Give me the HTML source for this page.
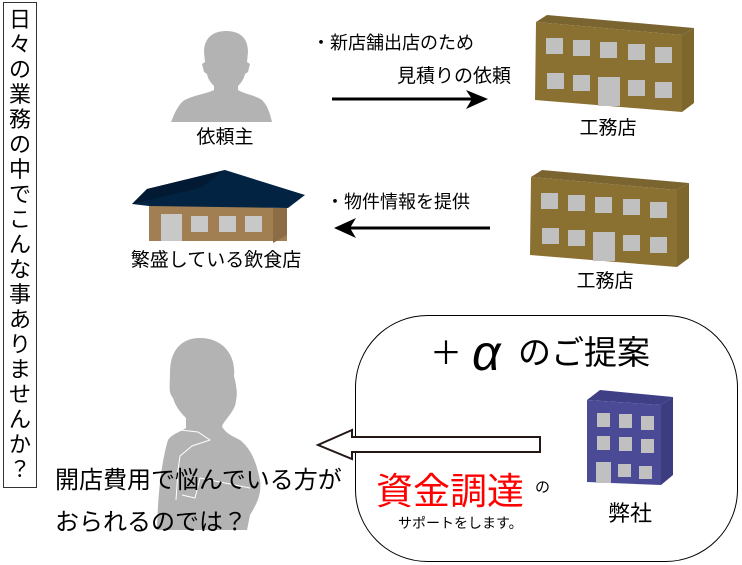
<!DOCTYPE html>
<html><head><meta charset="utf-8"><style>
html,body{margin:0;padding:0;background:#fff;}
svg{display:block;}
text{font-family:"Liberation Sans","Noto Sans CJK JP",sans-serif;fill:#000;}
</style></head><body>
<svg width="742" height="565" viewBox="0 0 742 565" xmlns="http://www.w3.org/2000/svg">
<rect x="0" y="0" width="742" height="565" fill="#fff"/>
<!-- vertical box -->
<rect x="3.5" y="2.5" width="33" height="485" fill="#fff" stroke="#333" stroke-width="1"/>
<g font-size="22" text-anchor="middle">
<text x="20" y="27">日</text><text x="20" y="52">々</text><text x="20" y="77">の</text><text x="20" y="102">業</text><text x="20" y="127">務</text><text x="20" y="152">の</text><text x="20" y="177">中</text><text x="20" y="202">で</text><text x="20" y="227">こ</text><text x="20" y="252">ん</text><text x="20" y="277">な</text><text x="20" y="302">事</text><text x="20" y="327">あ</text><text x="20" y="352">り</text><text x="20" y="377">ま</text><text x="20" y="402">せ</text><text x="20" y="427">ん</text><text x="20" y="452">か</text><text x="20" y="477">？</text>
</g>

<!-- person 1 -->
<path d="M226,31 C213,31 204,38 204,52 L205,62 L202,64 L204,72 L207,74 C208,80 212,84 214,86 L214,90 C206,94 189,96 182,102 C175,110 173,118 171,122 L272,122 C270,114 268,106 262,100 C255,95 244,94 238,90 L238,86 C241,83 244,79 245,74 L248,72 L250,64 L247,62 L248,52 C248,38 240,31 226,31 Z" fill="#b3b3b3"/>
<text x="225" y="143" font-size="19" text-anchor="middle">依頼主</text>

<!-- house -->
<polygon points="149,205 287,208 287,241 149,241" fill="#a27f53"/>
<polygon points="273,208 287,208 287,235 273,243" fill="#8c6c45"/>
<polygon points="132,204 147,189 225,170 305,195 288,208 149,206" fill="#032343"/>
<polygon points="132,204 147,189 225,170 200,188" fill="#021a33"/>
<rect x="161" y="214" width="21" height="27" fill="#c8c8c8"/>
<rect x="191" y="216" width="17" height="16" fill="#c8c8c8"/>
<rect x="219" y="216" width="17" height="16" fill="#c8c8c8"/>
<rect x="245" y="216" width="17" height="16" fill="#c8c8c8"/>
<text x="216" y="266" font-size="19" text-anchor="middle">繁盛している飲食店</text>

<!-- arrows top -->
<text x="312" y="49" font-size="18">・新店舗出店のため</text>
<text x="397" y="82" font-size="19">見積りの依頼</text>
<line x1="332" y1="99" x2="478" y2="99" stroke="#000" stroke-width="3"/>
<path d="M488,99 L466,90 L472,99 L466,109 Z" fill="#000"/>
<text x="326" y="208" font-size="18">・物件情報を提供</text>
<line x1="490" y1="228" x2="345" y2="228" stroke="#000" stroke-width="3"/>
<path d="M334,228 L356,218 L350,228 L356,238 Z" fill="#000"/>

<!-- building 1 -->
<g>
<polygon points="536,22 547,15 694,28 682,35" fill="#7a6430"/>
<polygon points="536,22 682,35 682,112 535,100" fill="#8a7132"/>
<polygon points="682,35 694,28 694,103 682,112" fill="#7d672d"/>
<rect x="546" y="38" width="17" height="16" fill="#c0c0c0"/>
<rect x="573" y="40" width="17" height="16" fill="#c0c0c0"/>
<rect x="600" y="42" width="17" height="16" fill="#c0c0c0"/>
<rect x="628" y="44" width="17" height="16" fill="#c0c0c0"/>
<rect x="655" y="47" width="17" height="16" fill="#c0c0c0"/>
<rect x="547" y="73" width="17" height="16" fill="#c0c0c0"/>
<rect x="573" y="75" width="17" height="16" fill="#c0c0c0"/>
<rect x="598" y="77" width="22" height="29" fill="#c0c0c0"/>
<rect x="628" y="80" width="17" height="16" fill="#c0c0c0"/>
<rect x="655" y="82" width="17" height="16" fill="#c0c0c0"/>
</g>
<text x="608" y="134" font-size="19" text-anchor="middle">工務店</text>
<g transform="translate(-5,155)">
<polygon points="536,22 547,15 694,28 682,35" fill="#7a6430"/>
<polygon points="536,22 682,35 682,112 535,100" fill="#8a7132"/>
<polygon points="682,35 694,28 694,103 682,112" fill="#7d672d"/>
<rect x="546" y="38" width="17" height="16" fill="#c0c0c0"/>
<rect x="573" y="40" width="17" height="16" fill="#c0c0c0"/>
<rect x="600" y="42" width="17" height="16" fill="#c0c0c0"/>
<rect x="628" y="44" width="17" height="16" fill="#c0c0c0"/>
<rect x="655" y="47" width="17" height="16" fill="#c0c0c0"/>
<rect x="547" y="73" width="17" height="16" fill="#c0c0c0"/>
<rect x="573" y="75" width="17" height="16" fill="#c0c0c0"/>
<rect x="598" y="77" width="22" height="29" fill="#c0c0c0"/>
<rect x="628" y="80" width="17" height="16" fill="#c0c0c0"/>
<rect x="655" y="82" width="17" height="16" fill="#c0c0c0"/>
</g>
<text x="605" y="287" font-size="19" text-anchor="middle">工務店</text>

<!-- person 2 -->
<path d="M200,338 C180,338 170,352 170,372 C170,386 168,392 173,398 C176,408 182,414 186,418 L186,428 C180,432 172,434 168,440 C162,460 158,490 157,530 L247,530 L250,515 C256,505 262,495 260,480 C256,460 250,448 240,440 C232,436 224,432 222,426 C226,418 236,410 236,400 C238,394 236,384 234,376 C236,354 222,338 200,338 Z" fill="#b3b3b3"/>
<path d="M180,430 L198,432 L210,440 L192,446 L180,456 L178,470 L176,500 M182,495 L195,498 L200,478 L250,488" stroke="#fff" stroke-width="1" fill="none"/>
<text x="55" y="488" font-size="24">開店費用で悩んでいる方が</text>
<text x="55" y="530" font-size="24">おられるのでは？</text>

<!-- rounded region -->
<rect x="355.5" y="315.5" width="382" height="246" rx="72" ry="72" fill="none" stroke="#000" stroke-width="1"/>
<text x="430" y="364" font-size="32">＋</text>
<text x="472" y="370" font-size="50" font-style="italic" font-family="Liberation Serif, serif">α</text>
<text x="518" y="364" font-size="33">のご提案</text>

<path d="M540,437 L352,437 L352,430 L318,445 L352,459 L352,452 L540,452 Z" fill="#fff" stroke="#231815" stroke-width="2"/>

<text x="376" y="504" font-size="37" style="fill:#f00">資金調達</text>
<text x="535" y="492" font-size="15">の</text>
<text x="398" y="528" font-size="14">サポートをします。</text>

<!-- blue building -->
<polygon points="587,400 600,390 673,397 661,405" fill="#3f3f86"/>
<polygon points="587,400 661,405 661,485 587,482" fill="#4a4a96"/>
<polygon points="661,405 673,397 673,475 661,485" fill="#3c3c80"/>
<rect x="597" y="413" width="13" height="14" fill="#c0c0c0"/>
<rect x="619" y="414" width="13" height="14" fill="#c0c0c0"/>
<rect x="641" y="416" width="13" height="14" fill="#c0c0c0"/>
<rect x="597" y="436" width="13" height="14" fill="#c0c0c0"/>
<rect x="619" y="437" width="13" height="14" fill="#c0c0c0"/>
<rect x="641" y="439" width="13" height="14" fill="#c0c0c0"/>
<rect x="596" y="462" width="15" height="21" fill="#c0c0c0"/>
<rect x="618" y="464" width="13" height="13" fill="#c0c0c0"/>
<rect x="639" y="466" width="13" height="13" fill="#c0c0c0"/>
<text x="630" y="521" font-size="22" text-anchor="middle">弊社</text>
</svg>
</body></html>
